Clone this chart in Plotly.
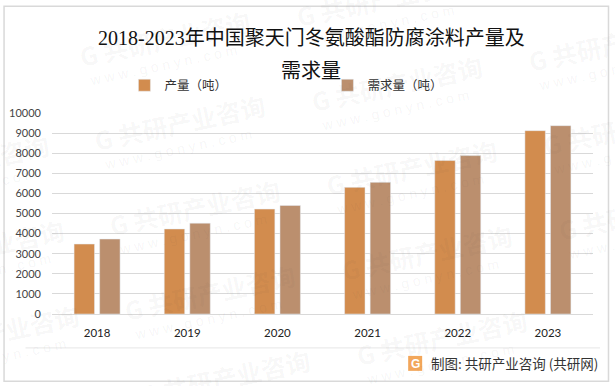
import plotly.graph_objects as go

years = ["2018", "2019", "2020", "2021", "2022", "2023"]
production = [3480, 4230, 5220, 6300, 7635, 9122]
demand = [3730, 4520, 5400, 6550, 7880, 9370]
y_ticks = list(range(0, 10001, 1000))
series_names = ["产量（吨）", "需求量（吨）"]
title_lines = ["2018-2023年中国聚天门冬氨酸酯防腐涂料产量及", "需求量"]
source_text = "制图: 共研产业咨询 (共研网)"
wm_cn = "G 共研产业咨询"
wm_en = "w w w . g o n y n . c o m"

W, H = 615, 386
L, R, T, B = 51.5, 22, 112.5, 72
FONT_CJK = "Noto Sans CJK SC"
fig = go.Figure()
fig.add_bar(x=years, y=production, name=series_names[0], marker_color="#D28C4E")
fig.add_bar(x=years, y=demand, name=series_names[1], marker_color="#BB8F6E")

def px(x): return (x - L) / (W - L - R)
def py(y): return 1 - (y - T) / (H - T - B)

def note(text, x, y, size, color, family=FONT_CJK, xanchor="center", angle=0):
    return dict(text=text, x=px(x), y=py(y), xref="paper", yref="paper", showarrow=False,
                xanchor=xanchor, yanchor="middle", textangle=angle,
                font=dict(family=family, size=size, color=color))

anns = []
for i in range(-1, 3):
    for j in range(-1, 5):
        x = 165 + 232 * i + 15 * j
        y = 37 + 45 * i + 85 * j
        if -40 < x < 650 and -5 < y < 395:
            anns.append(note("<b>" + wm_cn + "</b>", x, y, 25, "rgba(60,60,60,0.045)", angle=-12))
            anns.append(note(wm_en, x - 2, y + 27, 14, "rgba(60,60,60,0.055)", family="Liberation Sans", angle=-12))
anns.append(note(title_lines[0], 311, 37, 20, "#111111", family="Liberation Serif, " + FONT_CJK))
anns.append(note(title_lines[1], 311, 70, 20, "#111111", family="Liberation Serif, " + FONT_CJK))
anns.append(note(source_text, 600, 363, 13.5, "#333333", xanchor="right"))
anns.append(note("<b>G</b>", 415, 364, 12, "white", family="Liberation Sans"))

shapes = [
    dict(type="rect", xref="paper", yref="paper", x0=px(3.5), x1=px(608.5), y0=py(381.5), y1=py(5.5),
         line=dict(color="#D9D9D9", width=1.5), layer="below"),
    dict(type="line", xref="paper", yref="paper", x0=px(25), x1=px(600), y0=py(348), y1=py(348),
         line=dict(color="#E6E6E6", width=1), layer="below"),
    dict(type="rect", xref="paper", yref="paper", x0=px(408), x1=px(422), y0=py(371), y1=py(356),
         line=dict(width=0), fillcolor="#F2A65A"),
]

fig.update_layout(
    width=W, height=H, paper_bgcolor="white", plot_bgcolor="rgba(0,0,0,0)",
    margin=dict(l=L, r=R, t=T, b=B, autoexpand=False), autosize=False,
    barmode="group", bargap=0.433, bargroupgap=0.2,
    font=dict(family="Lato, " + FONT_CJK, size=11, color="#444444"),
    xaxis=dict(type="category", showgrid=False, showline=False, ticks="", ticklabelstandoff=10,
               tickfont=dict(size=11.5, color="#222222", family="Lato")),
    yaxis=dict(range=[0, 10000], tickvals=y_ticks, ticktext=[str(v) for v in y_ticks], showgrid=True,
               gridcolor="#D9D9D9", gridwidth=1.4,
               zeroline=True, zerolinecolor="#D9D9D9", zerolinewidth=1.4, ticks="", ticklabelstandoff=10,
               tickfont=dict(size=11, color="#444444", family="Lato")),
    legend=dict(orientation="h", x=px(124), y=py(70), xanchor="left", yanchor="top", entrywidth=158,
                entrywidthmode="pixels", itemwidth=30, bgcolor="rgba(0,0,0,0)",
                font=dict(family=FONT_CJK, size=12.5, color="#333333")),
    annotations=anns, shapes=shapes,
)
fig.write_html("out.html", config=dict(displayModeBar=False), post_script="document.body.style.margin='0';")
